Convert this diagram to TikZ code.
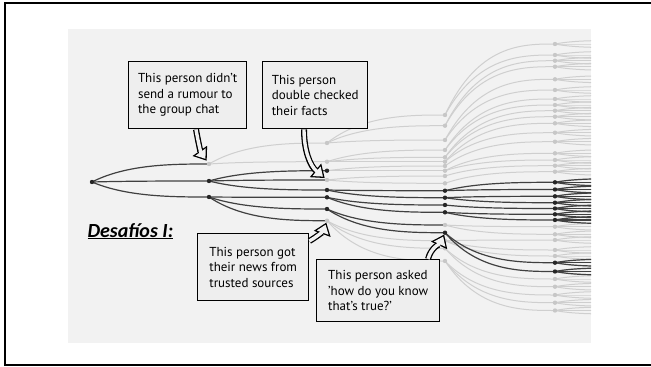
\documentclass[tikz,border=0pt]{standalone}
\usepackage{fontspec}
\setmainfont{PT Sans}
\newfontfamily\titlefont{Carlito}
\usetikzlibrary{calc,arrows.meta}

\tikzset{
  branch/.style={to path={let \p1=(\tikztostart), \p2=(\tikztotarget) in
      .. controls ({0.7*\x1+0.3*\x2}, \y2) and ({0.3*\x1+0.7*\x2}, \y2) .. (\tikztotarget)}},
  dark edge/.style={draw=black!75, line width=1.2pt},
  light edge/.style={draw=black!19, line width=1pt},
  note/.style={draw, line width=1.4pt, fill=gray!13, align=left, anchor=north west,
    inner xsep=6pt, font=\fontsize{13}{15.5}\selectfont},
  callout/.style={line width=6pt, -{Triangle[length=12pt, width=17pt]}, shorten >=#1,
    postaction={draw=gray!10, line width=3.4pt, -{Triangle[length=8.4pt, width=12pt]},
      shorten >=#1+2.25pt}},
}

\begin{document}
\begin{tikzpicture}[x=1pt, y=-1pt]
  \useasboundingbox (0, 0) rectangle (651, 367);
  \draw[line width=1.6pt] (5, 3) rectangle (656, 365);
  \fill[gray!10] (68, 29) rectangle (591, 343);

  % Dots, column by column
  \coordinate (r) at (92, 182);
  \foreach \y [count=\i] in {164, 181, 197}
    \coordinate (b\i) at (209, \y);
  \foreach \y [count=\i] in {143, 161.7, 170.7, 180, 190, 197.3, 209, 220.7}
    \coordinate (c\i) at (327, \y);
  \foreach \y [count=\i] in {115, 125.7, 140, 150, 157.3, 161.7, 166, 170.7, 176, 183.3,
      190.7, 197.7, 205, 212.3, 225, 232.7, 240.7, 248.3, 261}
    \coordinate (d\i) at (445, \y);
  \foreach \y [count=\i] in {44, 55, 60.7, 66.7, 79.3, 90, 99, 105, 110.7, 116.7, 123.3,
      132.7, 141.7, 153.3, 160, 165.7, 171.7, 182.3, 189.5, 196.3, 202.7, 208.5, 214.3,
      220, 226.7, 234.3, 240, 250, 256, 262.7, 271.5, 279, 286.7, 295, 302.7, 310.5}
    \coordinate (e\i) at (555, \y);

  \begin{scope}
    \clip (68, 29) rectangle (591, 343);
    % Branches that stop
    \foreach \a/\b in {b1/c1, b1/c2, c1/d1, c1/d2, c1/d3, c2/d4, c2/d5, c2/d6, c3/d7, c3/d8,
        c4/d9, c4/d10, c8/d17, c8/d18, c8/d19, d1/e1, d1/e2, d2/e3, d2/e4, d3/e5, d3/e6,
        d4/e7, d4/e8, d5/e9, d5/e10, d6/e11, d6/e12, d7/e13, d8/e14, d8/e15, d9/e16,
        d10/e17, d15/e25, d15/e26, d17/e27, d17/e28, d17/e29, d18/e32, d18/e33,
        d19/e34, d19/e35, d19/e36}
      \draw[light edge] (\a) to[branch] (\b);
    % Fan out past the last column
    \foreach \i in {1,...,36} {
      \foreach \dy [count=\k] in {-3.5, 0, 3.5} {
        \coordinate (e\i-\k) at ($(e\i)+(60, \dy)$);
        \draw[light edge] (e\i) to[branch] (e\i-\k);
      }
    }
    \foreach \i in {18,...,24,30,31} {
      \foreach \dy [count=\k] in {-3.5, 0, 3.5}
        \draw[dark edge] (e\i) to[branch] (e\i-\k);
    }
    % Branches that pass it on
    \foreach \a/\b in {r/b1, r/b2, r/b3, b2/c3, b2/c4, b2/c5, b3/c6, b3/c7, b3/c8,
        c5/d11, c5/d12, c6/d13, c6/d14, c7/d15, c7/d16, d11/e18, d11/e19, d12/e20,
        d12/e21, d13/e22, d14/e23, d14/e24, d16/e30, d16/e31}
      \draw[dark edge] (\a) to[branch] (\b);
  \end{scope}

  \foreach \n in {b1, c1, c2, c4, c8, d1, d2, d3, d4, d5, d6, d7, d8, d9, d10, d15, d17,
      d18, d19, e1, e2, e3, e4, e5, e6, e7, e8, e9, e10, e11, e12, e13, e14, e15, e16,
      e17, e25, e26, e27, e28, e29, e32, e33, e34, e35, e36}
    \fill[black!22] (\n) circle (2.2pt);
  \foreach \n in {r, b2, b3, c3, c5, c6, c7, d11, d12, d13, d14, d16, e18, e19, e20,
      e21, e22, e23, e24, e30, e31}
    \fill[black!85] (\n) circle (2.2pt);

  % Notes
  \node[note, minimum width=118pt, minimum height=67pt] (rumour) at (128, 61)
    {This person didn't\\send a rumour to\\the group chat};
  \node[note, minimum width=105pt, minimum height=67pt] (facts) at (262, 61)
    {This person\\double checked\\their facts};
  \node[note, minimum width=111pt, minimum height=67pt] (trusted) at (197, 233)
    {This person got\\their news from\\trusted sources};
  \node[note, minimum width=123pt, minimum height=62pt] (asked) at (316, 259)
    {This person asked\\'how do you know\\that's true?'};

  \node[anchor=base west, font=\titlefont\bfseries\itshape\fontsize{20}{22}\selectfont]
    (title) at (84, 237) {\underline{Desafíos I:}};

  % Callout arrows
  \draw[callout=4pt] ([xshift=68pt]rumour.south west) to[out=-80, in=125] (b1);
  \draw[callout=3pt] ([xshift=42pt]facts.south west) to[out=-90, in=140] (c4);
  \draw[callout=2pt] ([yshift=-8pt]trusted.north east) to[out=30, in=-110] (c8);
  \draw[callout=2pt] ([xshift=112pt]asked.north west) to[out=75, in=-115] (d16);
\end{tikzpicture}
\end{document}
